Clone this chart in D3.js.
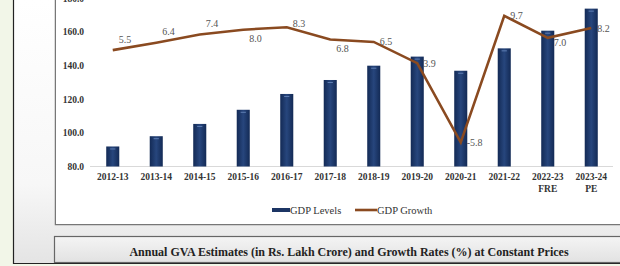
<!DOCTYPE html>
<html>
<head>
<meta charset="utf-8">
<script src="https://cdn.jsdelivr.net/npm/d3@7"></script>
<style>
  body { margin: 0; background: #fff; }
  svg { display: block; font-family: "Liberation Serif", "DejaVu Serif", serif; }
</style>
</head>
<body>
<svg id="chart" width="620" height="266"></svg>
<script>

var years = ["2012-13", "2013-14", "2014-15", "2015-16", "2016-17", "2017-18",
             "2018-19", "2019-20", "2020-21", "2021-22", "2022-23\nFRE", "2023-24\nPE"];
var gdpLevels = [91.9, 98.0, 105.3, 113.7, 123.1, 131.4, 139.9, 145.3, 136.9, 150.2, 160.7, 173.8];
var gdpGrowth = [5.5, 6.4, 7.4, 8.0, 8.3, 6.8, 6.5, 3.9, -5.8, 9.7, 7.0, 8.2];
var levelTicks = [80, 100, 120, 140, 160, 180];
var labelPlace = ["above", "above", "above", "below", "high", "below",
                  "right", "right", "right", "right", "low", "right"];

var svg = d3.select("#chart");

// page background: pale strip on the left, slide fading to grey at the bottom
var defs = svg.append("defs");
var slideGrad = defs.append("linearGradient").attr("id", "slide")
    .attr("x1", 0).attr("y1", 0).attr("x2", 0).attr("y2", 1);
slideGrad.append("stop").attr("offset", "0%").attr("stop-color", "#ffffff");
slideGrad.append("stop").attr("offset", "70%").attr("stop-color", "#f7f7f7");
slideGrad.append("stop").attr("offset", "100%").attr("stop-color", "#e4e4e4");

var titleGrad = defs.append("linearGradient").attr("id", "titlebg")
    .attr("x1", 0).attr("y1", 0).attr("x2", 0).attr("y2", 1);
titleGrad.append("stop").attr("offset", "0%").attr("stop-color", "#f4f4f4");
titleGrad.append("stop").attr("offset", "100%").attr("stop-color", "#e2e2e2");

var barGrad = defs.append("linearGradient").attr("id", "bar")
    .attr("x1", 0).attr("y1", 0).attr("x2", 1).attr("y2", 0);
barGrad.append("stop").attr("offset", "0%").attr("stop-color", "#132a55");
barGrad.append("stop").attr("offset", "50%").attr("stop-color", "#27467d");
barGrad.append("stop").attr("offset", "100%").attr("stop-color", "#132a55");

svg.append("rect").attr("width", 620).attr("height", 266).attr("fill", "#f2f6e8");
svg.append("rect").attr("x", 13).attr("y", 0).attr("width", 607).attr("height", 263)
    .attr("fill", "url(#slide)");
svg.append("path").attr("d", "M13.5,0V263.5H620")
    .attr("fill", "none").attr("stroke", "#222").attr("stroke-width", 1.2);

// chart frame
svg.append("path").attr("d", "M55.5,0V224.5H620")
    .attr("fill", "none").attr("stroke", "#777").attr("stroke-width", 1.5);
svg.append("rect").attr("x", 56).attr("y", 0).attr("width", 564).attr("height", 224)
    .attr("fill", "#fff");

// title box
svg.append("rect").attr("x", 54.5).attr("y", 236.5).attr("width", 570).attr("height", 26)
    .attr("fill", "url(#titlebg)").attr("stroke", "#666").attr("stroke-width", 1.2);
svg.append("text")
    .attr("x", 349).attr("y", 256)
    .attr("text-anchor", "middle")
    .attr("font-size", 12).attr("font-weight", "bold").attr("fill", "#222")
    .text("Annual GVA Estimates (in Rs. Lakh Crore) and Growth Rates (%) at Constant Prices");

var x = d3.scaleBand()
    .domain(years)
    .range([91, 613])
    .paddingInner(0.7)
    .paddingOuter(0.35);

var y = d3.scaleLinear()
    .domain([80, 180])
    .range([166.5, -1.8]);

var y2 = d3.scaleLinear()
    .domain([-8.75, 12])
    .range([166.5, -3]);

var g = svg.append("g");

// y axis (labels only)
var yAxis = g.append("g")
    .attr("transform", "translate(89,0)")
    .call(d3.axisLeft(y).tickValues(levelTicks).tickSize(0).tickPadding(5)
      .tickFormat(d3.format(".1f")));
yAxis.select(".domain").remove();
yAxis.selectAll("text")
    .attr("font-family", "Liberation Serif").attr("font-size", 9.5)
    .attr("font-weight", "bold").attr("fill", "#333");

// baseline
g.append("line")
    .attr("x1", 90).attr("x2", 613)
    .attr("y1", y(80)).attr("y2", y(80))
    .attr("stroke", "#d9d9d9").attr("stroke-width", 1);

// x axis
var xAxis = g.append("g")
    .attr("transform", "translate(0," + y(80) + ")")
    .call(d3.axisBottom(x).tickSize(0).tickPadding(7).tickFormat(""));
xAxis.select(".domain").remove();
xAxis.selectAll(".tick text").each(function(d) {
  var t = d3.select(this)
      .attr("font-family", "Liberation Serif").attr("font-size", 9.5)
      .attr("font-weight", "bold").attr("fill", "#333");
  d.split("\n").forEach(function(line, i) {
    t.append("tspan").attr("x", 0).attr("dy", i ? "1.2em" : "0.71em").text(line);
  });
});

// bars
var bars = g.selectAll(".bar")
    .data(years)
  .enter().append("g")
    .attr("class", "bar");

bars.append("rect")
    .attr("x", function(d) { return x(d); })
    .attr("width", x.bandwidth())
    .attr("y", function(d, i) { return y(gdpLevels[i]); })
    .attr("height", function(d, i) { return y(80) - y(gdpLevels[i]); })
    .attr("fill", "url(#bar)");

bars.append("line")
    .attr("x1", function(d) { return x(d) + x.bandwidth() * 0.3; })
    .attr("x2", function(d) { return x(d) + x.bandwidth() * 0.7; })
    .attr("y1", function(d, i) { return y(gdpLevels[i]) + 2.5; })
    .attr("y2", function(d, i) { return y(gdpLevels[i]) + 2.5; })
    .attr("stroke", "#6f8fc4").attr("stroke-width", 1).attr("opacity", 0.8);

// growth line
var line = d3.line()
    .x(function(d, i) { return x(years[i]) + x.bandwidth() / 2; })
    .y(function(d) { return y2(d); });

g.append("path")
    .datum(gdpGrowth)
    .attr("d", line)
    .attr("fill", "none")
    .attr("stroke", "#8a4a20")
    .attr("stroke-width", 2.6)
    .attr("stroke-linejoin", "miter");

var shift = {above: -11, below: 9, high: -4, low: 5, right: 0};

g.selectAll(".glabel")
    .data(gdpGrowth)
  .enter().append("text")
    .attr("class", "glabel")
    .attr("x", function(d, i) { return x(years[i]) + x.bandwidth() / 2 + 6; })
    .attr("y", function(d, i) { return y2(d) + shift[labelPlace[i]]; })
    .attr("dy", "0.35em")
    .attr("font-size", 10)
    .attr("fill", "#555")
    .text(function(d) { return d.toFixed(1); });

// legend
var legend = g.append("g").attr("font-size", 10.5).attr("fill", "#333");
legend.append("rect").attr("x", 272).attr("y", 208).attr("width", 18).attr("height", 4)
    .attr("fill", "#1c3564");
legend.append("text").attr("x", 290).attr("y", 210).attr("dy", "0.35em").text("GDP Levels");
legend.append("line").attr("x1", 355).attr("x2", 377).attr("y1", 210).attr("y2", 210)
    .attr("stroke", "#8a4a20").attr("stroke-width", 2.6);
legend.append("text").attr("x", 377).attr("y", 210).attr("dy", "0.35em").text("GDP Growth");

</script>
</body>
</html>
